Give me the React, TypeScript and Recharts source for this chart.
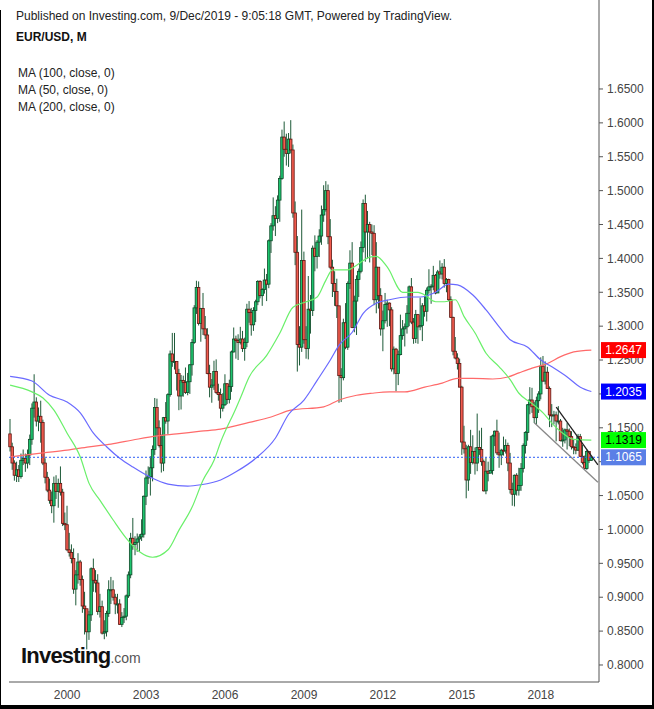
import React from 'react';
import { ComposedChart, Bar, Line, XAxis, YAxis, ReferenceLine } from 'recharts';

// monthly EUR/USD, first candle Nov 1997, last Dec 2019
const firstOpen = 1.141;

const closes: number[] = [
  1.122, 1.098,
  1.080, 1.088, 1.078, 1.102, 1.105, 1.098, 1.110, 1.133, 1.179, 1.188, 1.160, 1.167,
  1.158, 1.098, 1.077, 1.058, 1.043, 1.035, 1.068, 1.056, 1.068, 1.055, 1.009, 1.007,
  0.970, 0.966, 0.957, 0.912, 0.933, 0.952, 0.926, 0.887, 0.883, 0.849, 0.874, 0.942,
  0.925, 0.921, 0.879, 0.886, 0.847, 0.849, 0.876, 0.911, 0.911, 0.900, 0.890, 0.890,
  0.860, 0.870, 0.872, 0.902, 0.933, 0.987, 0.978, 0.981, 0.986, 0.989, 0.993, 1.049,
  1.076, 1.078, 1.091, 1.118, 1.180, 1.150, 1.124, 1.098, 1.165, 1.160, 1.199, 1.259,
  1.248, 1.248, 1.230, 1.197, 1.220, 1.217, 1.202, 1.218, 1.243, 1.276, 1.327, 1.357,
  1.304, 1.326, 1.296, 1.287, 1.230, 1.210, 1.213, 1.233, 1.202, 1.199, 1.179, 1.184,
  1.215, 1.192, 1.211, 1.262, 1.281, 1.279, 1.276, 1.281, 1.267, 1.276, 1.325, 1.320,
  1.302, 1.323, 1.336, 1.366, 1.345, 1.354, 1.368, 1.362, 1.426, 1.448, 1.463, 1.459,
  1.486, 1.518, 1.579, 1.561, 1.555, 1.576, 1.560, 1.467, 1.409, 1.273, 1.269, 1.397,
  1.280, 1.267, 1.325, 1.323, 1.415, 1.403, 1.424, 1.433, 1.464, 1.472, 1.500, 1.432,
  1.387, 1.363, 1.351, 1.330, 1.227, 1.224, 1.305, 1.269, 1.363, 1.393, 1.298, 1.337,
  1.369, 1.381, 1.416, 1.481, 1.439, 1.450, 1.439, 1.437, 1.339, 1.387, 1.345, 1.296,
  1.308, 1.332, 1.334, 1.324, 1.237, 1.266, 1.230, 1.258, 1.286, 1.296, 1.299, 1.319,
  1.358, 1.306, 1.282, 1.317, 1.299, 1.301, 1.330, 1.322, 1.353, 1.358, 1.359, 1.375,
  1.349, 1.380, 1.377, 1.387, 1.363, 1.369, 1.339, 1.313, 1.263, 1.253, 1.245, 1.210,
  1.129, 1.119, 1.073, 1.122, 1.099, 1.115, 1.098, 1.121, 1.118, 1.100, 1.057, 1.086,
  1.083, 1.087, 1.138, 1.145, 1.113, 1.110, 1.117, 1.116, 1.124, 1.098, 1.059, 1.052,
  1.080, 1.058, 1.065, 1.090, 1.124, 1.143, 1.184, 1.191, 1.181, 1.165, 1.190, 1.200,
  1.241, 1.219, 1.232, 1.208, 1.169, 1.168, 1.169, 1.160, 1.160, 1.131, 1.132, 1.147,
  1.145, 1.137, 1.122, 1.121, 1.117, 1.137, 1.108, 1.099, 1.090, 1.115, 1.102, 1.1065,
];

const highs: number[] = [
  1.163, 1.128,
  1.102, 1.100, 1.095, 1.112, 1.118, 1.112, 1.118, 1.140, 1.186, 1.229, 1.195, 1.180,
  1.190, 1.162, 1.105, 1.085, 1.075, 1.056, 1.078, 1.080, 1.075, 1.093, 1.060, 1.025,
  1.035, 0.995, 0.978, 0.972, 0.940, 0.965, 0.955, 0.932, 0.908, 0.870, 0.880, 0.944,
  0.957, 0.940, 0.934, 0.905, 0.895, 0.866, 0.880, 0.925, 0.930, 0.925, 0.905, 0.905,
  0.897, 0.878, 0.884, 0.904, 0.938, 0.995, 1.017, 0.990, 0.994, 0.993, 1.015, 1.050,
  1.087, 1.093, 1.108, 1.124, 1.194, 1.193, 1.161, 1.140, 1.166, 1.188, 1.201, 1.264,
  1.290, 1.290, 1.247, 1.237, 1.228, 1.227, 1.239, 1.231, 1.244, 1.281, 1.331, 1.367,
  1.366, 1.327, 1.349, 1.315, 1.297, 1.243, 1.222, 1.249, 1.251, 1.215, 1.208, 1.201,
  1.229, 1.216, 1.221, 1.264, 1.298, 1.286, 1.288, 1.299, 1.293, 1.283, 1.333, 1.337,
  1.327, 1.328, 1.339, 1.368, 1.368, 1.356, 1.385, 1.377, 1.428, 1.452, 1.490, 1.477,
  1.493, 1.522, 1.590, 1.602, 1.584, 1.585, 1.604, 1.568, 1.484, 1.433, 1.300, 1.472,
  1.410, 1.300, 1.374, 1.346, 1.419, 1.434, 1.427, 1.443, 1.478, 1.508, 1.514, 1.509,
  1.458, 1.398, 1.381, 1.370, 1.330, 1.238, 1.311, 1.334, 1.366, 1.412, 1.424, 1.345,
  1.375, 1.385, 1.425, 1.487, 1.494, 1.470, 1.454, 1.450, 1.449, 1.424, 1.385, 1.356,
  1.323, 1.349, 1.339, 1.335, 1.328, 1.270, 1.268, 1.264, 1.317, 1.309, 1.304, 1.331,
  1.360, 1.371, 1.312, 1.324, 1.318, 1.342, 1.334, 1.345, 1.357, 1.384, 1.362, 1.389,
  1.377, 1.383, 1.397, 1.393, 1.399, 1.371, 1.370, 1.344, 1.314, 1.284, 1.260, 1.252,
  1.212, 1.153, 1.125, 1.125, 1.147, 1.139, 1.121, 1.171, 1.146, 1.150, 1.103, 1.106,
  1.100, 1.138, 1.140, 1.146, 1.162, 1.143, 1.119, 1.137, 1.133, 1.128, 1.113, 1.069,
  1.081, 1.083, 1.091, 1.098, 1.127, 1.145, 1.185, 1.210, 1.209, 1.188, 1.196, 1.204,
  1.254, 1.256, 1.248, 1.240, 1.211, 1.185, 1.175, 1.174, 1.182, 1.163, 1.150, 1.149,
  1.157, 1.149, 1.145, 1.132, 1.127, 1.141, 1.141, 1.125, 1.109, 1.118, 1.109, 1.108,
];

const lows: number[] = [
  1.115, 1.088,
  1.072, 1.070, 1.070, 1.075, 1.095, 1.085, 1.090, 1.095, 1.125, 1.165, 1.152, 1.145,
  1.128, 1.095, 1.068, 1.055, 1.038, 1.024, 1.010, 1.045, 1.032, 1.050, 1.005, 0.999,
  0.968, 0.960, 0.950, 0.905, 0.888, 0.920, 0.917, 0.877, 0.845, 0.823, 0.837, 0.865,
  0.908, 0.907, 0.874, 0.870, 0.845, 0.838, 0.842, 0.871, 0.890, 0.895, 0.875, 0.876,
  0.859, 0.856, 0.862, 0.866, 0.899, 0.928, 0.970, 0.962, 0.967, 0.967, 0.983, 0.988,
  1.036, 1.067, 1.050, 1.071, 1.110, 1.138, 1.121, 1.084, 1.086, 1.156, 1.141, 1.196,
  1.240, 1.236, 1.205, 1.176, 1.177, 1.196, 1.200, 1.198, 1.200, 1.227, 1.274, 1.318,
  1.301, 1.277, 1.287, 1.281, 1.229, 1.195, 1.187, 1.206, 1.200, 1.190, 1.164, 1.174,
  1.182, 1.185, 1.186, 1.203, 1.261, 1.252, 1.250, 1.273, 1.262, 1.249, 1.269, 1.305,
  1.286, 1.293, 1.306, 1.331, 1.341, 1.330, 1.348, 1.337, 1.356, 1.408, 1.441, 1.433,
  1.452, 1.454, 1.516, 1.550, 1.537, 1.535, 1.555, 1.460, 1.390, 1.233, 1.242, 1.262,
  1.274, 1.252, 1.251, 1.289, 1.315, 1.381, 1.385, 1.402, 1.420, 1.454, 1.469, 1.421,
  1.384, 1.343, 1.330, 1.312, 1.187, 1.188, 1.220, 1.266, 1.265, 1.355, 1.297, 1.291,
  1.287, 1.343, 1.378, 1.409, 1.395, 1.400, 1.394, 1.405, 1.331, 1.319, 1.326, 1.286,
  1.263, 1.304, 1.299, 1.300, 1.233, 1.229, 1.204, 1.213, 1.257, 1.280, 1.270, 1.289,
  1.300, 1.303, 1.274, 1.275, 1.274, 1.294, 1.278, 1.314, 1.307, 1.348, 1.333, 1.353,
  1.347, 1.351, 1.370, 1.369, 1.357, 1.350, 1.337, 1.312, 1.257, 1.251, 1.236, 1.210,
  1.110, 1.112, 1.046, 1.057, 1.082, 1.096, 1.081, 1.086, 1.110, 1.094, 1.056, 1.052,
  1.071, 1.086, 1.081, 1.123, 1.110, 1.091, 1.095, 1.109, 1.112, 1.086, 1.053, 1.035,
  1.034, 1.050, 1.050, 1.057, 1.084, 1.112, 1.131, 1.170, 1.172, 1.157, 1.155, 1.172,
  1.192, 1.218, 1.214, 1.208, 1.151, 1.151, 1.155, 1.130, 1.155, 1.130, 1.122, 1.127,
  1.118, 1.123, 1.118, 1.111, 1.111, 1.116, 1.107, 1.096, 1.088, 1.088, 1.098, 1.101,
];

// moving averages, [month, value]
const ma50Points: [string, number][] = [
  ['1997-11', 1.213], ['1998-09', 1.203], ['1999-02', 1.194], ['1999-07', 1.176], ['2000-01', 1.142],
  ['2000-07', 1.107], ['2000-11', 1.068], ['2001-04', 1.043], ['2001-10', 1.014], ['2002-04', 0.987],
  ['2002-10', 0.967], ['2003-04', 0.959], ['2003-11', 0.970], ['2004-04', 0.999], ['2004-10', 1.033],
  ['2005-03', 1.073], ['2005-08', 1.102], ['2005-11', 1.129], ['2006-06', 1.179], ['2006-08', 1.194],
  ['2006-12', 1.225], ['2007-08', 1.257], ['2008-02', 1.290], ['2008-08', 1.328], ['2009-02', 1.336],
  ['2009-07', 1.343], ['2009-11', 1.368], ['2010-02', 1.383], ['2010-09', 1.383], ['2011-01', 1.390],
  ['2011-07', 1.402], ['2011-10', 1.403], ['2012-03', 1.387], ['2012-10', 1.350], ['2013-05', 1.350],
  ['2013-08', 1.346], ['2014-01', 1.336], ['2014-05', 1.336], ['2014-10', 1.339], ['2015-02', 1.314],
  ['2015-07', 1.290], ['2015-12', 1.260], ['2016-06', 1.240], ['2016-11', 1.221], ['2017-03', 1.201],
  ['2017-08', 1.188], ['2018-02', 1.172], ['2018-06', 1.157], ['2018-11', 1.142], ['2019-04', 1.133],
  ['2019-12', 1.1319],
];

const ma100Points: [string, number][] = [
  ['1997-11', 1.226], ['1998-09', 1.219], ['1999-05', 1.198], ['2000-01', 1.188], ['2000-07', 1.172],
  ['2001-01', 1.142], ['2001-07', 1.122], ['2002-01', 1.105], ['2002-07', 1.092], ['2003-03', 1.077],
  ['2003-11', 1.067], ['2004-08', 1.064], ['2005-02', 1.066], ['2005-11', 1.073], ['2006-06', 1.085],
  ['2007-03', 1.105], ['2007-12', 1.135], ['2008-06', 1.170], ['2009-01', 1.191], ['2009-07', 1.220],
  ['2010-01', 1.250], ['2010-05', 1.272], ['2010-11', 1.291], ['2011-04', 1.319], ['2011-10', 1.334],
  ['2012-04', 1.339], ['2012-12', 1.343], ['2013-06', 1.343], ['2014-01', 1.350], ['2014-07', 1.362],
  ['2014-11', 1.361], ['2015-06', 1.346], ['2015-12', 1.324], ['2016-06', 1.299], ['2016-11', 1.280],
  ['2017-07', 1.269], ['2018-01', 1.250], ['2018-06', 1.240], ['2019-01', 1.225], ['2019-07', 1.210],
  ['2019-12', 1.2035],
];

const ma200Points: [string, number][] = [
  ['1997-11', 1.107], ['1999-02', 1.113], ['2000-01', 1.117], ['2000-11', 1.122], ['2001-09', 1.126],
  ['2002-07', 1.132], ['2003-06', 1.138], ['2004-03', 1.141], ['2005-02', 1.145], ['2005-11', 1.148],
  ['2006-12', 1.158], ['2007-10', 1.166], ['2008-07', 1.176], ['2009-10', 1.181], ['2010-05', 1.191],
  ['2011-01', 1.198], ['2011-08', 1.201], ['2012-04', 1.203], ['2012-11', 1.203], ['2013-08', 1.210],
  ['2014-04', 1.216], ['2014-11', 1.223], ['2015-06', 1.223], ['2016-03', 1.222], ['2016-10', 1.225],
  ['2017-03', 1.231], ['2017-09', 1.238], ['2018-04', 1.245], ['2018-10', 1.255], ['2019-04', 1.262],
  ['2019-12', 1.2647],
];

const yearTicks = ['2000-01', '2003-01', '2006-01', '2009-01', '2012-01', '2015-01', '2018-01'];
const priceTicks = [0.8, 0.85, 0.9, 0.95, 1.0, 1.05, 1.1, 1.15, 1.2, 1.25, 1.3, 1.35, 1.4, 1.45, 1.5, 1.55, 1.6, 1.65];
// tick labels fully hidden behind a price tag in the original
const coveredTicks = [1.1, 1.2];

const lastPrice = 1.1065;
const priceTags: { value: number; bg: string; color: string }[] = [
  { value: 1.2647, bg: '#ff0000', color: '#fff' },
  { value: 1.2035, bg: '#0000ff', color: '#fff' },
  { value: 1.1319, bg: '#00ff00', color: '#000' },
  { value: lastPrice, bg: '#5a7fe6', color: '#fff' },
];
const upperChannel = [{ x: '2018-08', y: 1.1806 }, { x: '2020-03', y: 1.0952 }];
const lowerChannel = [{ x: '2017-10', y: 1.1575 }, { x: '2020-03', y: 1.0697 }];

const legendItems = ['MA (100, close, 0)', 'MA (50, close, 0)', 'MA (200, close, 0)'];

const FONT = 'Arial, "Liberation Sans", Helvetica, sans-serif';
const UP_FILL = '#1dc46e';
const UP_EDGE = '#0d4a28';
const DOWN_FILL = '#f25b4e';
const DOWN_EDGE = '#5e1510';
const WICK = '#1d5a38';
const Y_DOMAIN: [number, number] = [0.7749, 1.7813];
const MARGIN = { top: 0, right: 0, bottom: 0, left: 9 };

const monthLabel = (i: number) => {
  const t = 10 + i; // Nov 1997 = index 0
  const y = 1997 + Math.floor(t / 12);
  const m = (t % 12) + 1;
  return `${y}-${m < 10 ? '0' : ''}${m}`;
};

const totalSlots = 269; // data months plus a few empty months on the right
const toMap = (pts: [string, number][]) => new Map(pts.map(([m, v]) => [m, v]));
const ma50Map = toMap(ma50Points);
const ma100Map = toMap(ma100Points);
const ma200Map = toMap(ma200Points);

const rows = Array.from({ length: totalSlots }, (_, i) => {
  const m = monthLabel(i);
  const row: any = { m, ma50: ma50Map.get(m), ma100: ma100Map.get(m), ma200: ma200Map.get(m) };
  if (i < closes.length) {
    row.open = i === 0 ? firstOpen : closes[i - 1];
    row.close = closes[i];
    row.high = highs[i];
    row.low = lows[i];
    row.range = [lows[i], highs[i]];
  }
  return row;
});

const Candle = (props: any) => {
  const { x, y, width, height, payload } = props;
  if (!payload || payload.high == null) return null;
  const { open, close, high, low } = payload;
  const top = Math.min(y, y + height);
  const h = Math.abs(height);
  const span = high - low || 1e-6;
  const py = (v: number) => top + ((high - v) / span) * h;
  const cx = x + width / 2;
  const up = close >= open;
  const bTop = py(Math.max(open, close));
  const bH = Math.max(1, py(Math.min(open, close)) - bTop);
  const bw = 2.5;
  return (
    <g>
      <line x1={cx} x2={cx} y1={top} y2={top + h} stroke={WICK} strokeWidth={1} />
      <rect
        x={cx - bw / 2}
        y={bTop}
        width={bw}
        height={bH}
        fill={up ? UP_FILL : DOWN_FILL}
        stroke={up ? UP_EDGE : DOWN_EDGE}
        strokeWidth={0.8}
      />
    </g>
  );
};

const priceTag = (value: number, bg: string, color: string) => (p: any) => {
  const vb = p.viewBox;
  if (!vb) return null;
  const x = vb.x + vb.width + 2;
  return (
    <g>
      <rect x={x} y={vb.y - 8} width={45} height={16} fill={bg} />
      <text x={x + 22.5} y={vb.y + 4} textAnchor="middle" fontSize={12} fontFamily={FONT} fill={color}>
        {value.toFixed(4)}
      </text>
    </g>
  );
};

export default function App() {
  return (
    <div style={{ position: 'relative', width: 654, height: 709, background: '#fff', overflow: 'hidden', fontFamily: FONT }}>
      <style>{'body{margin:0}'}</style>
      <ComposedChart width={654} height={709} data={rows} margin={MARGIN} barCategoryGap={0} barGap={0}>
        <XAxis
          dataKey="m"
          ticks={yearTicks}
          interval={0}
          tickFormatter={(m: string) => m.slice(0, 4)}
          tickLine={false}
          axisLine={{ stroke: '#555' }}
          tick={{ fontSize: 12, fill: '#444', fontFamily: FONT }}
          height={27}
        />
        <YAxis
          orientation="right"
          type="number"
          domain={Y_DOMAIN}
          ticks={priceTicks}
          allowDataOverflow
          width={55}
          tickSize={4}
          tickMargin={4}
          tickFormatter={(v: number) => (coveredTicks.some((c) => Math.abs(c - v) < 1e-9) ? '' : v.toFixed(4))}
          axisLine={{ stroke: '#555' }}
          tickLine={{ stroke: '#555' }}
          tick={{ fontSize: 12, fill: '#444', fontFamily: FONT }}
        />
        <Line dataKey="ma200" stroke="#ff6a6a" strokeWidth={1.2} dot={false} type="monotone" connectNulls isAnimationActive={false} />
        <Line dataKey="ma100" stroke="#6a6aff" strokeWidth={1.2} dot={false} type="monotone" connectNulls isAnimationActive={false} />
        <Line dataKey="ma50" stroke="#6af06a" strokeWidth={1.2} dot={false} type="monotone" connectNulls isAnimationActive={false} />
        <Bar dataKey="range" shape={<Candle />} isAnimationActive={false} />
        <ReferenceLine segment={upperChannel} stroke="#222" strokeWidth={1.3} ifOverflow="visible" />
        <ReferenceLine segment={lowerChannel} stroke="#888" strokeWidth={1.3} ifOverflow="visible" />
        <ReferenceLine y={lastPrice} stroke="#2d5ef5" strokeDasharray="2 2" strokeWidth={1} />
      </ComposedChart>

      {/* price tags drawn in a transparent chart on top so they cover the axis labels */}
      <div style={{ position: 'absolute', left: 0, top: 0 }}>
        <ComposedChart width={654} height={709} data={rows} margin={{ ...MARGIN, right: 55, bottom: 27 }}>
          <XAxis dataKey="m" hide />
          <YAxis type="number" domain={Y_DOMAIN} allowDataOverflow hide />
          {priceTags.map((t) => (
            <ReferenceLine key={t.value} y={t.value} stroke="none" label={priceTag(t.value, t.bg, t.color)} />
          ))}
        </ComposedChart>
      </div>

      <div style={{ position: 'absolute', left: 16, top: 9, fontSize: 12, color: '#222', whiteSpace: 'nowrap' }}>
        Published on Investing.com, 9/Dec/2019 - 9:05:18 GMT, Powered by TradingView.
      </div>
      <div style={{ position: 'absolute', left: 16, top: 30, fontSize: 12, fontWeight: 'bold', color: '#111' }}>EUR/USD, M</div>
      {legendItems.map((t, k) => (
        <div key={t} style={{ position: 'absolute', left: 18, top: 66 + k * 17, fontSize: 12, color: '#222', whiteSpace: 'nowrap' }}>
          {t}
        </div>
      ))}
      <div style={{ position: 'absolute', left: 21, top: 645, whiteSpace: 'nowrap', lineHeight: 1 }}>
        <span style={{ fontSize: 22, fontWeight: 'bold', color: '#111', letterSpacing: -0.8 }}>Investing</span>
        <span style={{ fontSize: 14, color: '#555' }}>.com</span>
      </div>
      <div style={{ position: 'absolute', left: 0, top: 10, width: 1, bottom: 0, background: '#000' }} />
      <div style={{ position: 'absolute', right: 0, top: 0, width: 2, bottom: 0, background: '#000' }} />
      <div style={{ position: 'absolute', left: 0, right: 0, bottom: 0, height: 4, background: '#000' }} />
    </div>
  );
}
